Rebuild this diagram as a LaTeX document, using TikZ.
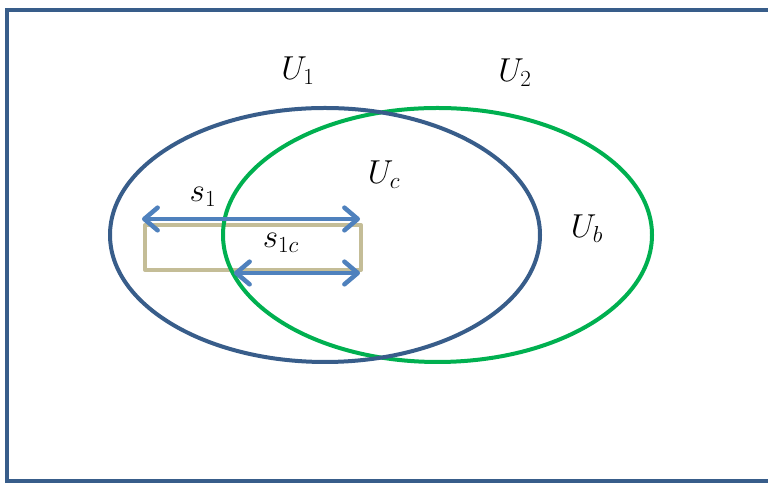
\documentclass[tikz,border=0pt]{standalone}
\usetikzlibrary{arrows.meta}
\definecolor{frameblue}{RGB}{56,93,138}
\definecolor{setgreen}{RGB}{0,176,80}
\definecolor{arrowblue}{RGB}{79,129,189}
\definecolor{boxtan}{RGB}{196,189,151}
\begin{document}
\begin{tikzpicture}[x=0.75pt, y=0.75pt, line width=3pt,
    lab/.style={font=\fontsize{23}{27}\selectfont},
    span/.style={arrowblue, line width=3.4pt, line cap=round,
      {Straight Barb[round,length=10pt,width=17pt]}-{Straight Barb[round,length=10pt,width=17pt]}}]
    \useasboundingbox (0,0) rectangle (768,484);
    % 1. outer frame (runs past the right edge)
    \draw[frameblue] (7,3) rectangle (790,474);

    % 2. the region box, then the two sets
    \draw[boxtan, line join=round] (145,259) rectangle (361,214);
    \draw[setgreen] (437.5,249) ellipse [x radius=214.5, y radius=127];
    \draw[frameblue] (325,249) ellipse [x radius=215, y radius=127];

    % 3. spans
    \coordinate (s1l) at (142,265);
    \coordinate (s1r) at (360,265);
    \coordinate (s1cl) at (234,211);
    \coordinate (s1cr) at (360,211);
    \draw[span] (s1l) -- (s1r);
    \draw[span] (s1cl) -- (s1cr);

    % 4. labels
    \node[lab] (u1) at (298,413) {$U_1$};
    \node[lab] (u2) at (515,411) {$U_2$};
    \node[lab] (uc) at (384,309) {$U_c$};
    \node[lab] (ub) at (587,255) {$U_b$};
    \node[lab] (s1) at (203,287) {$s_1$};
    \node[lab] (s1c) at (281,241) {$s_{1c}$};
\end{tikzpicture}
\end{document}
